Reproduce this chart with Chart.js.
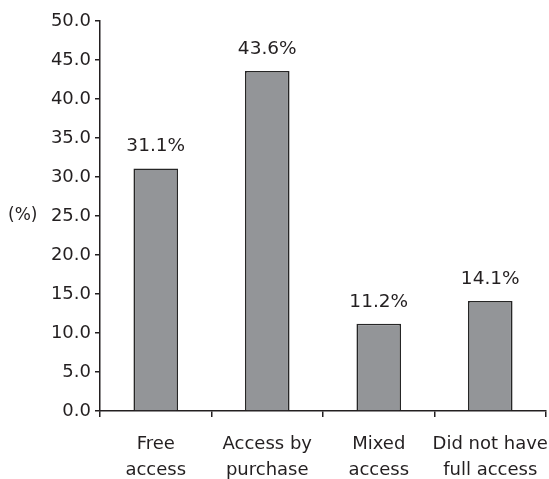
<!DOCTYPE html>
<html>
<head>
<meta charset="utf-8">
<script src="https://cdn.jsdelivr.net/npm/chart.js@4/dist/chart.umd.min.js"></script>
<style>
  html, body { margin: 0; padding: 0; background: #ffffff; }
  #wrap { width: 549px; height: 479px; }
</style>
</head>
<body>
<div id="wrap"><canvas id="chart" width="549" height="479"></canvas></div>
<script>
// Access type of respondents, share in percent
const categories = [
  ['Free', 'access'],
  ['Access by', 'purchase'],
  ['Mixed', 'access'],
  ['Did not have', 'full access']
];
const shares = [31.1, 43.6, 11.2, 14.1];
const yTicks = [0, 5, 10, 15, 20, 25, 30, 35, 40, 45, 50];
const yAxisLabel = '(%)';

const FONT = '"DejaVu Sans", sans-serif';
const INK = '#231f20';

// Value labels printed above each bar
const barValueLabels = {
  id: 'barValueLabels',
  afterDatasetsDraw(chart) {
    const ctx = chart.ctx;
    const meta = chart.getDatasetMeta(0);
    ctx.save();
    ctx.font = '18.5px ' + FONT;
    ctx.fillStyle = INK;
    ctx.textAlign = 'center';
    ctx.textBaseline = 'alphabetic';
    meta.data.forEach((bar, i) => {
      ctx.fillText(shares[i].toFixed(1) + '%', bar.x, bar.y - 17);
    });
    ctx.restore();
  }
};

// Horizontal unit label to the left of the value axis
const unitLabel = {
  id: 'unitLabel',
  afterDraw(chart) {
    const ctx = chart.ctx;
    const area = chart.chartArea;
    ctx.save();
    ctx.font = '17px ' + FONT;
    ctx.fillStyle = INK;
    ctx.textAlign = 'left';
    ctx.textBaseline = 'middle';
    ctx.fillText(yAxisLabel, 8, (area.top + area.bottom) / 2);
    ctx.restore();
  }
};

new Chart(document.getElementById('chart'), {
  type: 'bar',
  data: {
    labels: categories,
    datasets: [{
      data: shares,
      backgroundColor: '#939598',
      borderColor: '#262626',
      borderWidth: 1.6,
      borderSkipped: 'bottom',
      categoryPercentage: 1.0,
      barPercentage: 0.4
    }]
  },
  options: {
    responsive: false,
    animation: false,
    devicePixelRatio: 1,
    layout: { padding: { top: 21, right: 3, left: 0, bottom: 0 } },
    plugins: {
      legend: { display: false },
      tooltip: { enabled: false }
    },
    scales: {
      x: {
        offset: true,
        grid: {
          offset: true,
          drawOnChartArea: false,
          drawTicks: true,
          tickLength: 6,
          color: INK,
          lineWidth: 1.5
        },
        border: { display: true, color: INK, width: 1.5 },
        ticks: {
          color: INK,
          font: { family: FONT, size: 18, lineHeight: 1.42 },
          padding: 15,
          maxRotation: 0,
          autoSkip: false
        },
        afterFit(scale) {
          scale.height = 68;
          scale.paddingLeft = 0;
          scale.paddingRight = 0;
        }
      },
      y: {
        min: 0,
        max: 50,
        afterBuildTicks(scale) { scale.ticks = yTicks.map(v => ({ value: v })); },
        grid: {
          drawOnChartArea: false,
          drawTicks: true,
          tickLength: 5,
          color: INK,
          lineWidth: 1.5
        },
        border: { display: true, color: INK, width: 1.5 },
        ticks: {
          color: INK,
          font: { family: FONT, size: 18 },
          padding: 4,
          callback: v => Number(v).toFixed(1)
        },
        afterFit(scale) { scale.width = 100; }
      }
    }
  },
  plugins: [barValueLabels, unitLabel]
});
</script>
</body>
</html>
